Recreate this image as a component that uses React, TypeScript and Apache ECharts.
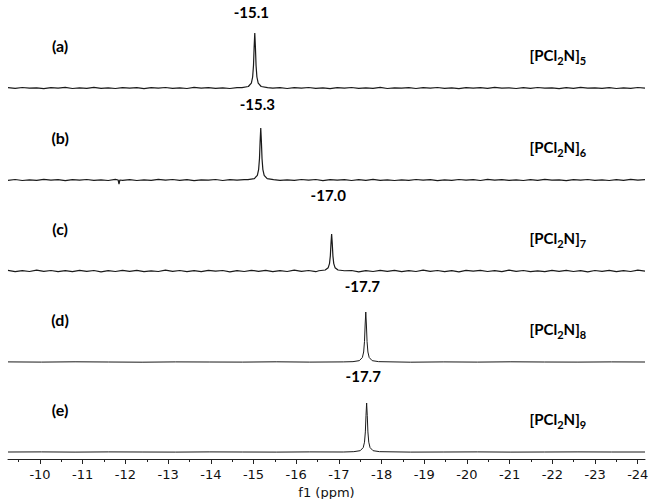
import React, { useEffect, useRef } from "react";
import * as echarts from "echarts";

// ---- data ----
const panelLetters = ["(a)", "(b)", "(c)", "(d)", "(e)"];
const ringSizes = ["5", "6", "7", "8", "9"];
const shiftLabels = ["-15.1", "-15.3", "-17.0", "-17.7", "-17.7"];
const peakPositions = [-15.03, -15.17, -16.83, -17.63, -17.65];
const peakHeights = [55, 52, 37, 50, 49];
const baselineOffsets = [371, 279, 188, 97, 7];

const majorTicks = [-10, -11, -12, -13, -14, -15, -16, -17, -18, -19, -20, -21, -22, -23, -24];
const minorTicks = [
  -9.5, -10.5, -11.5, -12.5, -13.5, -14.5, -15.5, -16.5, -17.5, -18.5, -19.5, -20.5, -21.5,
  -22.5, -23.5,
];

const peakShapeOffsets = [-0.3, -0.15, -0.08, -0.05, -0.03, -0.015, 0, 0.015, 0.03, 0.05, 0.08, 0.15, 0.3];
const peakShapeRel = [0.007, 0.027, 0.09, 0.2, 0.41, 0.74, 1, 0.74, 0.41, 0.2, 0.09, 0.027, 0.007];

const noiseA = [
  0.3, -0.4, 0.5, -0.2, 0.1, -0.6, 0.4, -0.1, 0.6, -0.5,
  0.2, -0.3, 0.6, -0.3, 0.1, -0.5, 0.4, -0.1, 0.3, -0.6,
  0.3, -0.2, 0.5, -0.4, 0.1, -0.5, 0.6, -0.1, 0.4, -0.3,
  0.2, -0.5, 0.4, -0.3, 0.1, -0.4, 0.6, -0.2, 0.3, -0.5,
  0.3, -0.1, 0.5, -0.3, 0.1, -0.6, 0.4, -0.2, 0.5, -0.4,
  0.1, -0.3, 0.6, -0.5, 0.2, -0.1, 0.4, -0.5, 0.3, -0.2,
  0.5, -0.4, 0.2, -0.6, 0.3, -0.1, 0.4, -0.3, 0.6, -0.2,
  0.1, -0.5, 0.3, -0.4, 0.5, -0.1, 0.2, -0.6, 0.4, -0.3,
  0.6, -0.2, 0.1, -0.4, 0.3, -0.5, 0.2, -0.3, 0.5, -0.1,
];
const noiseB = [
  -0.3, 0.5, -0.5, 0.2, -0.4, 0.6, -0.1, 0.4, -0.6, 0.3,
  -0.2, 0.5, -0.4, 0.1, -0.5, 0.6, -0.3, 0.3, -0.5, 0.2,
  -0.4, 0.6, -0.1, 0.5, -0.3, 0.3, -0.6, 0.1, -0.2, 0.5,
  -0.5, 0.3, -0.1, 0.4, -0.5, 0.2, -0.3, 0.6, -0.4, 0.1,
  -0.3, 0.5, -0.2, 0.5, -0.6, 0.3, -0.1, 0.4, -0.5, 0.3,
  -0.3, 0.6, -0.4, 0.2, -0.5, 0.1, -0.3, 0.5, -0.2, 0.4,
  -0.6, 0.2, -0.4, 0.5, -0.1, 0.3, -0.5, 0.6, -0.2, 0.3,
  -0.4, 0.1, -0.5, 0.4, -0.3, 0.6, -0.2, 0.2, -0.6, 0.4,
  -0.1, 0.5, -0.3, 0.2, -0.5, 0.3, -0.4, 0.6, -0.2, 0.3,
];
const noiseC = [
  0.6, -0.7, 0.4, -0.5, 0.8, -0.3, 0.5, -0.7, 0.3, -0.6,
  0.7, -0.4, 0.5, -0.8, 0.3, -0.5, 0.7, -0.3, 0.6, -0.7,
  0.2, -0.5, 0.8, -0.4, 0.5, -0.7, 0.3, -0.6, 0.7, -0.2,
  0.5, -0.8, 0.4, -0.5, 0.7, -0.3, 0.6, -0.7, 0.3, -0.5,
  0.8, -0.4, 0.5, -0.7, 0.2, -0.6, 0.7, -0.3, 0.5, -0.8,
  0.4, -0.5, 0.7, -0.3, 0.6, -0.7, 0.3, -0.5, 0.8, -0.4,
  0.5, -0.6, 0.3, -0.8, 0.6, -0.2, 0.7, -0.5, 0.4, -0.7,
  0.8, -0.3, 0.5, -0.6, 0.2, -0.7, 0.6, -0.4, 0.7, -0.5,
  0.3, -0.8, 0.5, -0.3, 0.7, -0.6, 0.4, -0.5, 0.8, -0.2,
];
const noiseD = [0.1, -0.1, 0.2, 0, -0.2, 0.1, 0, -0.1, 0.2, -0.1, 0.1, 0, -0.2, 0.1, -0.1, 0.2, 0, -0.1, 0.1, 0];
const noiseE = [0, 0.1, -0.1, 0.1, 0, -0.1, 0.1, 0, -0.1, 0.1, 0, 0.1, -0.1, 0, 0.1, -0.1, 0, 0.1, 0, 0];
const noiseSets = [noiseA, noiseB, noiseC, noiseD, noiseE];

// sharp negative spike seen in trace (b)
const spikeTrace = 1;
const spikeX = -11.85;
const spikeDepth = -4;

// ---- layout ----
const X_MIN = -24.17;
const X_MAX = -9.25;
const LETTER_X = -10.47;
const FORMULA_X = -22.13;
const LETTER_RISE = 43;
const FORMULA_RISE = 33;
const SHIFT_RISE = 76;

function buildTrace(i: number) {
  const noise = noiseSets[i];
  const pk = peakPositions[i];
  const base = baselineOffsets[i];
  const n = noise.length;
  const pts: [number, number][] = [];
  for (let k = 0; k < n; k++) {
    const x = X_MAX - (k * (X_MAX - X_MIN)) / (n - 1);
    if (Math.abs(x - pk) < 0.32) continue;
    if (i === spikeTrace && Math.abs(x - spikeX) < 0.08) continue;
    pts.push([x, base + noise[k]]);
  }
  for (let k = 0; k < peakShapeOffsets.length; k++) {
    pts.push([pk + peakShapeOffsets[k], base + peakHeights[i] * peakShapeRel[k]]);
  }
  if (i === spikeTrace) {
    pts.push([spikeX + 0.02, base]);
    pts.push([spikeX, base + spikeDepth]);
    pts.push([spikeX - 0.02, base]);
  }
  pts.sort((a, b) => b[0] - a[0]);
  return pts;
}

const boldFont = "Lato, 'Open Sans', sans-serif";
const axisFont = "'DejaVu Sans', Verdana, sans-serif";

export default function App() {
  const ref = useRef<HTMLDivElement>(null);
  useEffect(() => {
    document.body.style.margin = "0";
    if (!ref.current) return;
    const chart = echarts.init(ref.current, undefined, { renderer: "svg" });
    const series = panelLetters.map((letter, i) => {
      const base = baselineOffsets[i];
      return {
        type: "line",
        xAxisIndex: 0,
        yAxisIndex: 0,
        data: buildTrace(i),
        showSymbol: false,
        symbol: "none",
        smooth: false,
        lineStyle: { color: "#1a1a1a", width: i < 3 ? 1.2 : 1 },
        silent: true,
        markPoint: {
          symbol: "circle",
          symbolSize: 1,
          itemStyle: { color: "rgba(0,0,0,0)" },
          silent: true,
          data: [
            {
              coord: [peakPositions[i] + 0.08, base + SHIFT_RISE],
              label: {
                show: true,
                position: "inside",
                formatter: shiftLabels[i],
                fontFamily: boldFont,
                fontWeight: "bold",
                fontSize: 15,
                color: "#000",
              },
            },
            {
              coord: [LETTER_X, base + LETTER_RISE],
              label: {
                show: true,
                position: "inside",
                formatter: letter,
                fontFamily: boldFont,
                fontWeight: "bold",
                fontSize: 16,
                color: "#000",
              },
            },
            {
              coord: [FORMULA_X, base + FORMULA_RISE],
              label: {
                show: true,
                position: "inside",
                formatter: `{m|[PCl}{s|2}{m|N]}{s|${ringSizes[i]}}`,
                rich: {
                  m: {
                    fontFamily: boldFont,
                    fontWeight: "bold",
                    fontSize: 15,
                    lineHeight: 22,
                    verticalAlign: "middle",
                    color: "#000",
                  },
                  s: {
                    fontFamily: boldFont,
                    fontWeight: "bold",
                    fontSize: 11,
                    lineHeight: 12,
                    verticalAlign: "bottom",
                    color: "#000",
                  },
                },
              },
            },
          ],
        },
      };
    });

    chart.setOption({
      animation: false,
      backgroundColor: "#fff",
      grid: { left: 8, right: 4, top: 0, bottom: 40, containLabel: false, outerBoundsMode: "none" },
      xAxis: [
        {
          type: "value",
          min: X_MIN,
          max: X_MAX,
          inverse: true,
          position: "bottom",
          name: "f1 (ppm)",
          nameLocation: "middle",
          nameGap: 22,
          nameTextStyle: { fontFamily: axisFont, fontSize: 13, color: "#111" },
          axisLine: { show: true, lineStyle: { color: "#222", width: 1 } },
          axisTick: { show: true, customValues: majorTicks, length: 5, lineStyle: { color: "#222" } },
          axisLabel: {
            show: true,
            customValues: majorTicks,
            margin: 9,
            fontFamily: axisFont,
            fontSize: 13,
            color: "#111",
          },
          splitLine: { show: false },
        },
        {
          type: "value",
          min: X_MIN,
          max: X_MAX,
          inverse: true,
          position: "bottom",
          axisLine: { show: false },
          axisTick: { show: true, customValues: minorTicks, length: 3, lineStyle: { color: "#222" } },
          axisLabel: { show: false },
          splitLine: { show: false },
        },
      ],
      yAxis: { type: "value", min: 0, max: 459, show: false },
      series,
    });
    return () => chart.dispose();
  }, []);
  return <div ref={ref} style={{ width: 649, height: 499 }} />;
}
